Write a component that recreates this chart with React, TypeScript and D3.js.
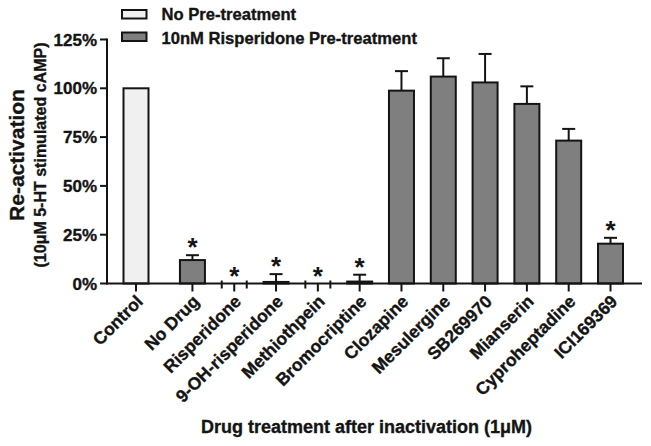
import React from "react";
import * as d3 from "d3";

const categories = ["Control", "No Drug", "Risperidone", "9-OH-risperidone", "Methiothpein", "Bromocriptine", "Clozapine", "Mesulergine", "SB269970", "Mianserin", "Cyproheptadine", "ICI169369"];
const values = [100, 12, 0, 0.8, 0, 1, 98.8, 106, 103, 92, 73.2, 20.4];
const errors = [0, 2.5, 0, 4, 0, 3.5, 10, 9.4, 14.6, 9, 6, 3];
const significant = [false, true, true, true, true, true, false, false, false, false, false, true];
const series = ["No Pre-treatment", "10nM Risperidone Pre-treatment"];
const seriesOf = [0, 1, 1, 1, 1, 1, 1, 1, 1, 1, 1, 1];
const yTicks = [0, 25, 50, 75, 100, 125];

const W = 651, H = 446;
const FONT = "'Liberation Sans', Arial, Helvetica, sans-serif";
const fills = ["#f0f0f0", "#7f7f7f"];
const INK = "#141414";

export default function App() {
  const slot = (i: number) => (i === 0 ? 0 : i + 0.35);
  const x = d3.scaleLinear().domain([0, 11.35]).range([136, 610.5]);
  const y = d3.scaleLinear().domain([0, 125]).range([283.5, 39.5]);
  const axisX0 = 107, axisX1 = 642;
  const bw = 25;
  const cap = 13;
  const y0 = y(0);
  const heavy = { stroke: INK, strokeWidth: 0.35 } as const;

  return (
    <svg width={W} height={H} style={{ position: "absolute", left: 0, top: 0, background: "#fff" }} fontFamily={FONT}>
      {/* bars */}
      {categories.map((c, i) => {
        const cx = x(slot(i));
        const top = y(values[i]);
        const et = y(values[i] + errors[i]);
        return (
          <g key={c}>
            <rect x={cx - bw / 2} y={top} width={bw} height={Math.max(0, y0 - top)} fill={fills[seriesOf[i]]} stroke={INK} strokeWidth={2} />
            {values[i] === 0 && (
              <g stroke={INK} strokeWidth={2}>
                <line x1={cx - bw / 2} x2={cx - bw / 2} y1={y0 - 3} y2={y0 + 5} />
                <line x1={cx + bw / 2} x2={cx + bw / 2} y1={y0 - 3} y2={y0 + 5} />
              </g>
            )}
            {errors[i] > 0 && (
              <g stroke={INK} strokeWidth={2}>
                <line x1={cx} x2={cx} y1={top} y2={et} />
                <line x1={cx - cap / 2} x2={cx + cap / 2} y1={et} y2={et} />
              </g>
            )}
            {significant[i] && (
              <text x={cx} y={et + 1} textAnchor="middle" fontSize={26} fontWeight="bold" fill={INK}>*</text>
            )}
          </g>
        );
      })}

      {/* y axis */}
      <line x1={axisX0} x2={axisX0} y1={y(125) - 1} y2={y0 + 1} stroke={INK} strokeWidth={2} />
      {yTicks.map((t) => (
        <g key={t}>
          <line x1={axisX0 - 7} x2={axisX0} y1={y(t)} y2={y(t)} stroke={INK} strokeWidth={2} />
          <text x={97} y={y(t)} dy="0.36em" textAnchor="end" fontSize={17} fontWeight="bold" fill={INK} {...heavy}>{t}%</text>
        </g>
      ))}

      {/* x axis */}
      <line x1={axisX0 - 1} x2={axisX1} y1={y0} y2={y0} stroke={INK} strokeWidth={2} />
      {categories.map((c, i) => {
        const cx = x(slot(i));
        return (
          <g key={c + "t"}>
            <line x1={cx} x2={cx} y1={y0} y2={y0 + 8} stroke={INK} strokeWidth={2} />
            <text transform={`translate(${cx + 8},${y0 + 19}) rotate(-45)`} textAnchor="end" fontSize={17.5} fontWeight="bold" fill={INK} {...heavy}>{c}</text>
          </g>
        );
      })}

      {/* axis titles */}
      <text transform={`translate(24,155) rotate(-90)`} textAnchor="middle" fontSize={21} fontWeight="bold" fill={INK} {...heavy}>Re-activation</text>
      <text transform={`translate(45.5,155) rotate(-90)`} textAnchor="middle" fontSize={16} fontWeight="bold" fill={INK} {...heavy}>(10μM 5-HT stimulated cAMP)</text>
      <text x={366.5} y={433} textAnchor="middle" fontSize={18} fontWeight="bold" fill={INK} {...heavy}>Drug treatment after inactivation (1μM)</text>

      {/* legend */}
      {series.map((s, k) => (
        <g key={s}>
          <rect x={122} y={k === 0 ? 10 : 32.5} width={24.5} height={8.5} fill={fills[k]} stroke={INK} strokeWidth={2} />
          <text x={161.5} y={k === 0 ? 19.5 : 43.5} fontSize={16.6} fontWeight="bold" fill={INK} {...heavy}>{s}</text>
        </g>
      ))}
    </svg>
  );
}
